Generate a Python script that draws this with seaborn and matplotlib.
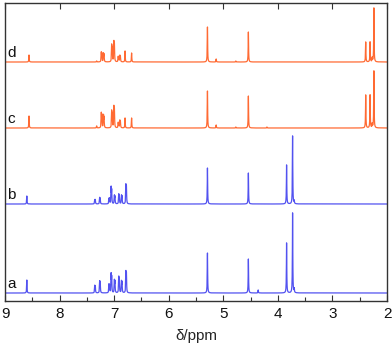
import numpy as np
import pandas as pd
import matplotlib
matplotlib.use("Agg")
import matplotlib.pyplot as plt
import seaborn as sns
from matplotlib.ticker import MultipleLocator

sns.set_style("ticks")
plt.rcParams['font.family'] = ['Liberation Sans', 'DejaVu Sans']

# ---- data: peak lists (ppm, intensity) per spectrum ----
labels = ["a", "b", "c", "d"]

a_ppm = [8.60, 7.355, 7.345, 7.265, 7.255, 7.095, 7.085, 7.055, 7.045, 6.995, 6.985,
         6.915, 6.905, 6.865, 6.855, 6.785, 6.775, 5.29, 4.54, 4.36, 3.84, 3.73, 3.70]
a_int = [13, 7, 6, 11, 10, 8, 7, 18, 15, 12, 11, 15, 13, 11, 10, 20, 18, 40, 34, 3, 50, 80, 4]

b_ppm = [8.60, 7.355, 7.345, 7.265, 7.255, 7.095, 7.085, 7.055, 7.045, 6.995, 6.985,
         6.915, 6.905, 6.865, 6.855, 6.785, 6.775, 5.29, 4.54, 3.84, 3.73, 3.70]
b_int = [8, 4, 4, 6, 5, 5, 5, 16, 13, 8, 7, 9, 8, 8, 7, 18, 16, 36, 31, 39, 68, 3]

c_ppm = [8.56, 7.32, 7.235, 7.225, 7.195, 7.185, 7.045, 7.035, 7.005, 6.995,
         6.925, 6.915, 6.895, 6.885, 6.80, 6.68, 5.29, 5.13, 4.77, 4.54, 4.20,
         2.39, 2.31, 2.27, 2.24]
c_int = [12, 2, 14, 12, 12, 10, 16, 13, 20, 17, 5, 4, 7, 6, 10, 10, 37, 3, 1, 32, 1,
         33, 33, 4, 57]

d_ppm = [8.56, 7.32, 7.235, 7.225, 7.195, 7.185, 7.045, 7.035, 7.005, 6.995,
         6.925, 6.915, 6.895, 6.885, 6.80, 6.68, 5.29, 5.13, 4.77, 4.54,
         2.39, 2.31, 2.27, 2.24]
d_int = [7, 1, 9, 8, 8, 7, 16, 13, 19, 16, 5, 4, 6, 5, 11, 9, 35, 3, 1, 30,
         20, 20, 4, 54]

x_ticks = [9, 8, 7, 6, 5, 4, 3, 2]

# ---- layout / style ----
offsets = {"a": 8, "b": 97, "c": 173, "d": 239}
colors = {"a": "#5252f0", "b": "#5252f0", "c": "#ff6a33", "d": "#ff6a33"}
peaks = {"a": (a_ppm, a_int), "b": (b_ppm, b_int), "c": (c_ppm, c_int), "d": (d_ppm, d_int)}

grid = np.round(np.arange(2.0, 9.0001, 0.0005), 4)
hw = 0.004

def spectrum(ppm, inten):
    y = np.zeros_like(grid)
    for p, h in zip(ppm, inten):
        y += h / (1 + ((grid - p) / hw) ** 2)
    return y

rows = []
for lab in labels:
    y = spectrum(*peaks[lab])
    rows.append(pd.DataFrame({"ppm": grid, "y": y + offsets[lab], "trace": lab}))
df = pd.concat(rows, ignore_index=True)

fig = plt.figure(figsize=(3.92, 3.49), dpi=100)
ax = fig.add_axes([5/392, 1 - 301/349, 382/392, 298/349])

sns.lineplot(data=df, x="ppm", y="y", hue="trace", palette=colors,
             linewidth=0.9, legend=False, ax=ax, sort=False, estimator=None)

for lab in labels:
    ax.text(8.965, offsets[lab] + 2, lab, fontsize=11, ha="left", va="bottom", color="#111111")

ax.set_xlim(9, 2)
ax.set_ylim(0, 298)
ax.set_xticks(x_ticks)
ax.set_xticklabels([str(t) for t in x_ticks])
ax.xaxis.set_minor_locator(MultipleLocator(0.5))
ax.set_yticks([])
ax.set_ylabel("")
ax.set_xlabel("δ/ppm", fontsize=11, labelpad=6)
ax.tick_params(axis="x", which="major", direction="in", length=4, width=0.8,
               labelsize=11, top=True, bottom=True, colors="#333333", labelcolor="#111111", pad=4)
ax.tick_params(axis="x", which="minor", direction="in", length=3, width=0.8,
               top=False, bottom=True, colors="#333333")
for s in ax.spines.values():
    s.set_visible(True)
    s.set_color("#333333")
    s.set_linewidth(1.0)

fig.savefig("out.png", dpi=100)
